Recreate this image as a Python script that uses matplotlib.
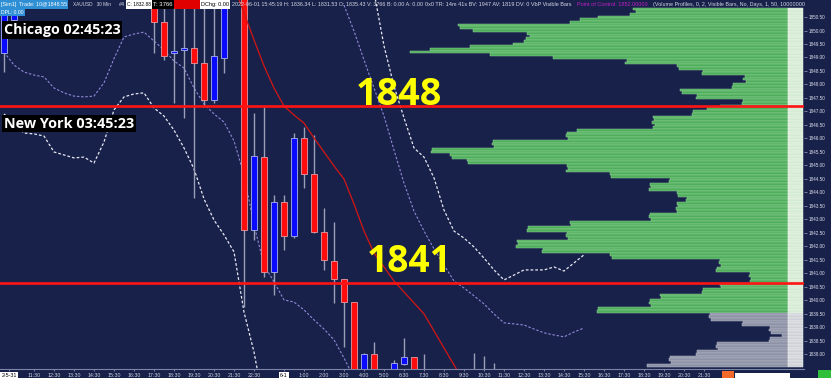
import numpy as np
import matplotlib
matplotlib.use("Agg")
import matplotlib.pyplot as plt
import matplotlib.transforms as mtransforms
from matplotlib.patches import Rectangle

# ---------------- data ----------------
# 30-minute XAUUSD candles, bar positions on the time axis
candle_bars = [0, 1, 15, 16, 17, 18, 19, 20, 21, 22, 24, 25, 26, 27, 28, 29,
               30, 31, 32, 33, 34, 35, 36, 37, 39, 40, 41, 42, 47, 48, 49]
opens = [1849.17, 1850.39, 1851.00, 1850.31, 1849.17, 1849.28, 1849.35, 1848.80,
         1847.43, 1848.98, 1851.30, 1842.61, 1845.31, 1841.06, 1843.65, 1842.39,
         1846.02, 1844.69, 1842.54, 1841.46, 1840.80, 1839.94, 1837.30, 1838.02,
         1837.46, 1837.65, 1837.91, 1837.30, 1837.30, 1837.30, 1837.30]
highs = [1850.69, 1851.10, 1851.10, 1851.20, 1851.20, 1851.20, 1851.20, 1851.20,
         1851.20, 1851.20, 1851.50, 1846.94, 1847.17, 1843.91, 1843.91, 1846.20,
         1846.43, 1846.13, 1843.43, 1842.91, 1840.80, 1839.94, 1838.05, 1838.46,
         1837.80, 1838.61, 1837.91, 1838.02, 1838.06, 1837.94, 1837.69]
lows = [1848.46, 1850.20, 1849.17, 1848.91, 1847.31, 1846.76, 1843.80, 1847.17,
        1847.31, 1848.43, 1839.76, 1842.24, 1840.87, 1840.20, 1841.87, 1842.31,
        1844.17, 1842.50, 1841.13, 1839.91, 1838.28, 1837.20, 1837.20, 1837.30,
        1837.30, 1837.60, 1837.30, 1837.10, 1837.00, 1837.10, 1837.20]
closes = [1850.57, 1851.02, 1850.31, 1849.06, 1849.24, 1849.35, 1848.80, 1847.43,
          1849.06, 1851.00, 1842.61, 1845.35, 1841.06, 1843.65, 1842.39, 1846.02,
          1844.69, 1842.54, 1841.50, 1840.80, 1839.94, 1837.30, 1838.02, 1837.43,
          1837.69, 1837.91, 1837.40, 1837.20, 1837.20, 1837.20, 1837.25]

# moving average (solid red)
ma_bars = list(range(23, 47))
ma_values = [1851.65, 1850.65, 1849.65, 1848.69, 1847.87, 1847.20, 1846.87, 1846.57,
             1846.02, 1845.50, 1844.98, 1844.50, 1843.57, 1842.57, 1841.76, 1841.24,
             1840.72, 1840.31, 1839.91, 1839.50, 1838.87, 1838.24, 1837.61, 1836.98]

# band lines (dashed)
lower_outer_bars = list(range(0, 27))
lower_outer = [1846.91, 1846.54, 1846.20, 1846.17, 1846.09, 1845.50, 1845.39, 1845.28,
               1845.31, 1845.09, 1845.87, 1847.06, 1847.54, 1847.65, 1847.69, 1847.13,
               1846.83, 1846.31, 1845.65, 1844.87, 1843.76, 1842.98, 1842.43, 1841.80,
               1839.57, 1838.09, 1836.10]
lower_inner_bars = list(range(0, 36))
lower_inner = [1849.20, 1848.72, 1848.46, 1848.35, 1848.28, 1847.87, 1847.69, 1847.57,
               1847.54, 1847.57, 1848.06, 1848.96, 1849.76, 1849.87, 1849.94, 1849.61,
               1849.28, 1848.87, 1848.61, 1847.87, 1847.28, 1846.91, 1846.61, 1845.91,
               1844.65, 1842.80, 1841.31, 1840.69, 1840.02, 1839.94, 1839.65, 1839.28,
               1838.94, 1838.54, 1837.87, 1837.13]
upper_inner_bars = list(range(34, 59))
upper_inner = [1850.94, 1849.98, 1848.91, 1847.87, 1846.83, 1845.57, 1844.35, 1843.31,
               1842.57, 1841.91, 1841.31, 1840.72, 1840.46, 1840.17, 1839.87, 1839.50,
               1839.17, 1839.13, 1839.09, 1838.94, 1838.80, 1838.72, 1838.65, 1838.83,
               1838.98]
upper_outer_bars = list(range(37, 59))
upper_outer = [1851.43, 1849.43, 1847.94, 1846.76, 1845.65, 1845.31, 1844.54, 1843.35,
               1842.57, 1842.31, 1841.98, 1841.57, 1841.13, 1840.76, 1840.94, 1841.13,
               1841.13, 1841.13, 1841.24, 1841.09, 1841.39, 1841.69]

# horizontal levels and their annotations
level_prices = [1847.20, 1840.64]
level_labels = ["1848", "1841"]

# volume profile (one row per 0.10 price step, from the top row down)
profile_top = 1850.8
profile_step = 0.1
green_volumes = [155, 152, 158, 190, 208, 218, 330, 328, 315, 261, 258, 262, 264, 275,
                 318, 358, 378, 298, 235, 161, 163, 111, 109, 85, 86, 43, 45, 42, 55,
                 56, 108, 106, 91, 92, 45, 46, 68, 81, 95, 96, 135, 134, 136, 133, 135,
                 211, 221, 222, 220, 295, 296, 294, 356, 357, 338, 336, 321, 320, 221,
                 220, 222, 178, 177, 118, 119, 138, 137, 139, 111, 110, 101, 102, 111,
                 110, 112, 111, 138, 139, 137, 218, 217, 260, 261, 221, 222, 220, 271,
                 270, 272, 245, 246, 178, 176, 68, 69, 67, 71, 72, 38, 39, 37, 38, 68,
                 67, 85, 86, 128, 127, 138, 139, 137, 190, 191]
grey_volumes = [78, 79, 77, 45, 46, 18, 19, 17, 6, 18, 19, 71, 72, 70, 91, 92, 118,
                119, 117, 141]

# time axis
tick_bars = [0.5, 3, 5, 7, 9, 11, 13, 15, 17, 19, 21, 23, 25, 28, 30, 32, 34, 36, 38,
             40, 42, 44, 46, 48, 50, 52, 54, 56, 58, 60, 62, 64, 66, 68, 70]
tick_labels = ["2-5-31", "11:30", "12:30", "13:30", "14:30", "15:30", "16:30", "17:30",
               "18:30", "19:30", "20:30", "21:30", "22:30", "6-1", "1:00", "2:00", "3:00",
               "4:00", "5:00", "6:30", "7:30", "8:30", "9:30", "10:30", "11:30", "12:30",
               "13:30", "14:30", "15:30", "16:30", "17:30", "18:30", "19:30", "20:30",
               "21:30"]
price_ticks = [1838.0, 1838.5, 1839.0, 1839.5, 1840.0, 1840.5, 1841.0, 1841.5, 1842.0,
               1842.5, 1843.0, 1843.5, 1844.0, 1844.5, 1845.0, 1845.5, 1846.0, 1846.5,
               1847.0, 1847.5, 1848.0, 1848.5, 1849.0, 1849.5, 1850.0, 1850.5]

# ---------------- layout / style ----------------
W, H = 831, 378
NAVY = "#18214a"
Y_LO, Y_HI = 1837.46, 1851.13
X_LO, X_HI = -0.4, 80.0

plt.rcParams["font.family"] = ["Liberation Sans", "DejaVu Sans"]
fig = plt.figure(figsize=(W / 100, H / 100), dpi=100, facecolor=NAVY)
renderer = fig.canvas.get_renderer()


def fx(px):
    return px / W


def fy(py):
    return 1 - py / H


def fit(t, target):
    bb = t.get_window_extent(renderer)
    if bb.width > 0:
        t.set_fontsize(t.get_fontsize() * target / bb.width)


bottom_frac = (H - 369) / H
height_frac = 369 / H

# volume profile axes (drawn underneath)
ax2 = fig.add_axes([0, bottom_frac, fx(788), height_frac], facecolor=NAVY)
n_g = len(green_volumes)
n_all = n_g + len(grey_volumes)
levels = np.round(profile_top - profile_step * np.arange(n_all), 2)
ax2.barh(levels[:n_g], green_volumes, height=profile_step, left=0,
         color="#4fae5b", edgecolor="#93cf9b", linewidth=0.35)
ax2.barh(levels[n_g:], grey_volumes, height=profile_step, left=0,
         color="#8d92a6", edgecolor="#b3b7c6", linewidth=0.35)
ax2.set_xlim(788, 0)
ax2.set_ylim(Y_LO, Y_HI)
ax2.axis("off")

# main price axes
ax = fig.add_axes([0, bottom_frac, fx(804), height_frac], facecolor="none")
ax.set_xlim(X_LO, X_HI)
ax.set_ylim(Y_LO, Y_HI)

# volume numbers column (pale)
blend = mtransforms.blended_transform_factory(ax.transAxes, ax.transData)
for k, lv in enumerate(levels):
    col = "#d3ebd3" if k < n_g else "#cfd0d8"
    ax.add_patch(Rectangle((788 / 804, lv - profile_step / 2), 15 / 804, profile_step,
                           transform=blend, facecolor=col, edgecolor="#f2f8f2",
                           linewidth=0.3, zorder=1))

# band lines
dash = (0, (2.2, 1.6))
ax.plot(lower_outer_bars, lower_outer, color="#e6e8f2", lw=0.9, ls=dash, zorder=2)
ax.plot(upper_outer_bars, upper_outer, color="#e6e8f2", lw=0.9, ls=dash, zorder=2)
ax.plot(lower_inner_bars, lower_inner, color="#8e88d6", lw=0.8, ls=dash, zorder=2)
ax.plot(upper_inner_bars, upper_inner, color="#8e88d6", lw=0.8, ls=dash, zorder=2)
ax.plot(ma_bars, ma_values, color="#cc1616", lw=0.95, zorder=4)

# candles
o = np.array(opens); c = np.array(closes)
h = np.array(highs); l = np.array(lows)
xb = np.array(candle_bars)
ax.vlines(xb, l, h, colors="#9a9fb8", lw=1.0, zorder=3)
up = c >= o
ax.bar(xb[up], (c - o)[up], bottom=o[up], width=0.65, color="#0a0aff",
       edgecolor="#aab2f0", linewidth=0.6, zorder=3.5)
ax.bar(xb[~up], (o - c)[~up], bottom=c[~up], width=0.65, color="#ff0d0d",
       edgecolor="#e39aa2", linewidth=0.6, zorder=3.5)

# horizontal levels
for p in level_prices:
    ax.axhline(p, color="#ff1414", lw=1.9, zorder=5)

t1 = ax.text(35.2, level_prices[0] + 0.05, level_labels[0], color="#ffff00",
             fontfamily="Open Sans", fontweight="bold", fontsize=27,
             ha="left", va="baseline", zorder=6)
t2 = ax.text(36.3, 1841.06, level_labels[1], color="#ffff00",
             fontfamily="Open Sans", fontweight="bold", fontsize=27,
             ha="left", va="baseline", zorder=6)
fit(t1, 86)
fit(t2, 85)

# axes styling
for s in ["top", "left", "right"]:
    ax.spines[s].set_visible(False)
ax.spines["bottom"].set_color("#7d85a6")
ax.spines["bottom"].set_linewidth(0.8)
ax.yaxis.tick_right()
ax.set_yticks(price_ticks)
ax.set_yticklabels([f"{p:.2f}" for p in price_ticks])
ax.tick_params(axis="y", colors="#8a90aa", labelcolor="#dde0ea", labelsize=3.3,
               length=2, width=0.6, pad=1.5)
ax.set_xticks(tick_bars)
ax.set_xticklabels(tick_labels)
ax.tick_params(axis="x", colors="#8a90aa", labelcolor="#d0d4e0", labelsize=3.8,
               length=1.5, width=0.6, pad=1.2)
for lbl in ax.get_xticklabels():
    if lbl.get_text() in ("2-5-31", "6-1"):
        lbl.set_color("black")
        lbl.set_bbox(dict(facecolor="white", edgecolor="none", pad=0.6))

# ---------------- header strip ----------------
def header_box(x0, x1, y0, y1, fc):
    fig.add_artist(Rectangle((fx(x0), fy(y1)), (x1 - x0) / W, (y1 - y0) / H,
                             transform=fig.transFigure, facecolor=fc,
                             edgecolor="none", zorder=10))


def header_text(txt, x0, x1, ymid, color):
    t = fig.text(fx(x0 + 1), fy(ymid), txt, color=color, fontsize=4.5,
                 ha="left", va="center", zorder=11)
    fit(t, x1 - x0 - 2)
    return t


header_box(0, 68, 0, 9, "#2f8fd4")
header_text("[Sim1]  Trade: 10@1848.55", 0, 68, 4.6, "white")
header_box(0, 25, 9, 15.5, "#2f8fd4")
header_text("DPL: 0.00", 0, 25, 12.3, "white")
header_text("XAUUSD   30 Min", 72, 112, 4.6, "#d4d8e4")
header_text("#4", 118, 126, 4.6, "#d4d8e4")
header_box(126, 152, 0, 9, "white")
header_text("C: 1832.88", 126, 152, 4.6, "black")
header_box(152, 174, 0, 9, "black")
header_text("T: 3766", 152, 174, 4.6, "white")
header_box(174, 200, 0, 9, "#e00000")
header_box(200, 230, 0, 9, "white")
header_text("DChg: 0.00", 200, 230, 4.6, "black")
header_text("2022-06-01 15:45:19 H: 1836.34 L: 1831.53 O: 1835.43 V: 3766 B: 0.00 A: 0.00",
            231, 422, 4.6, "#d4d8e4")
header_text("0x0 TR: 14m 41s BV: 1947 AV: 1819 DV: 0 VbP Visible Bars",
            424, 573, 4.6, "#d4d8e4")
header_text("Point of Control: 1852.00000", 576, 648, 4.6, "#c21fc8")
header_text("(Volume Profiles, 0, 2, Visible Bars, No, Days, 1, 50, 10000000",
            652, 803, 4.6, "#d4d8e4")

# ---------------- clock labels ----------------
for txt, ymid, width in [("Chicago 02:45:23", 30, 116), ("New York 03:45:23", 123.5, 130)]:
    t = fig.text(fx(4), fy(ymid), txt, color="white", fontfamily="Open Sans",
                 fontweight="bold", fontsize=10, ha="left", va="center", zorder=12,
                 bbox=dict(facecolor="black", edgecolor="none", pad=1.3))
    fit(t, width)

# ---------------- bottom-right widgets ----------------
header_box(722, 734, 371, 378, "#f2692a")
header_box(735, 790, 373, 378, "white")
header_box(818, 831, 370, 378, "#2fbf3a")

fig.savefig("out.png", dpi=100, facecolor=NAVY)
